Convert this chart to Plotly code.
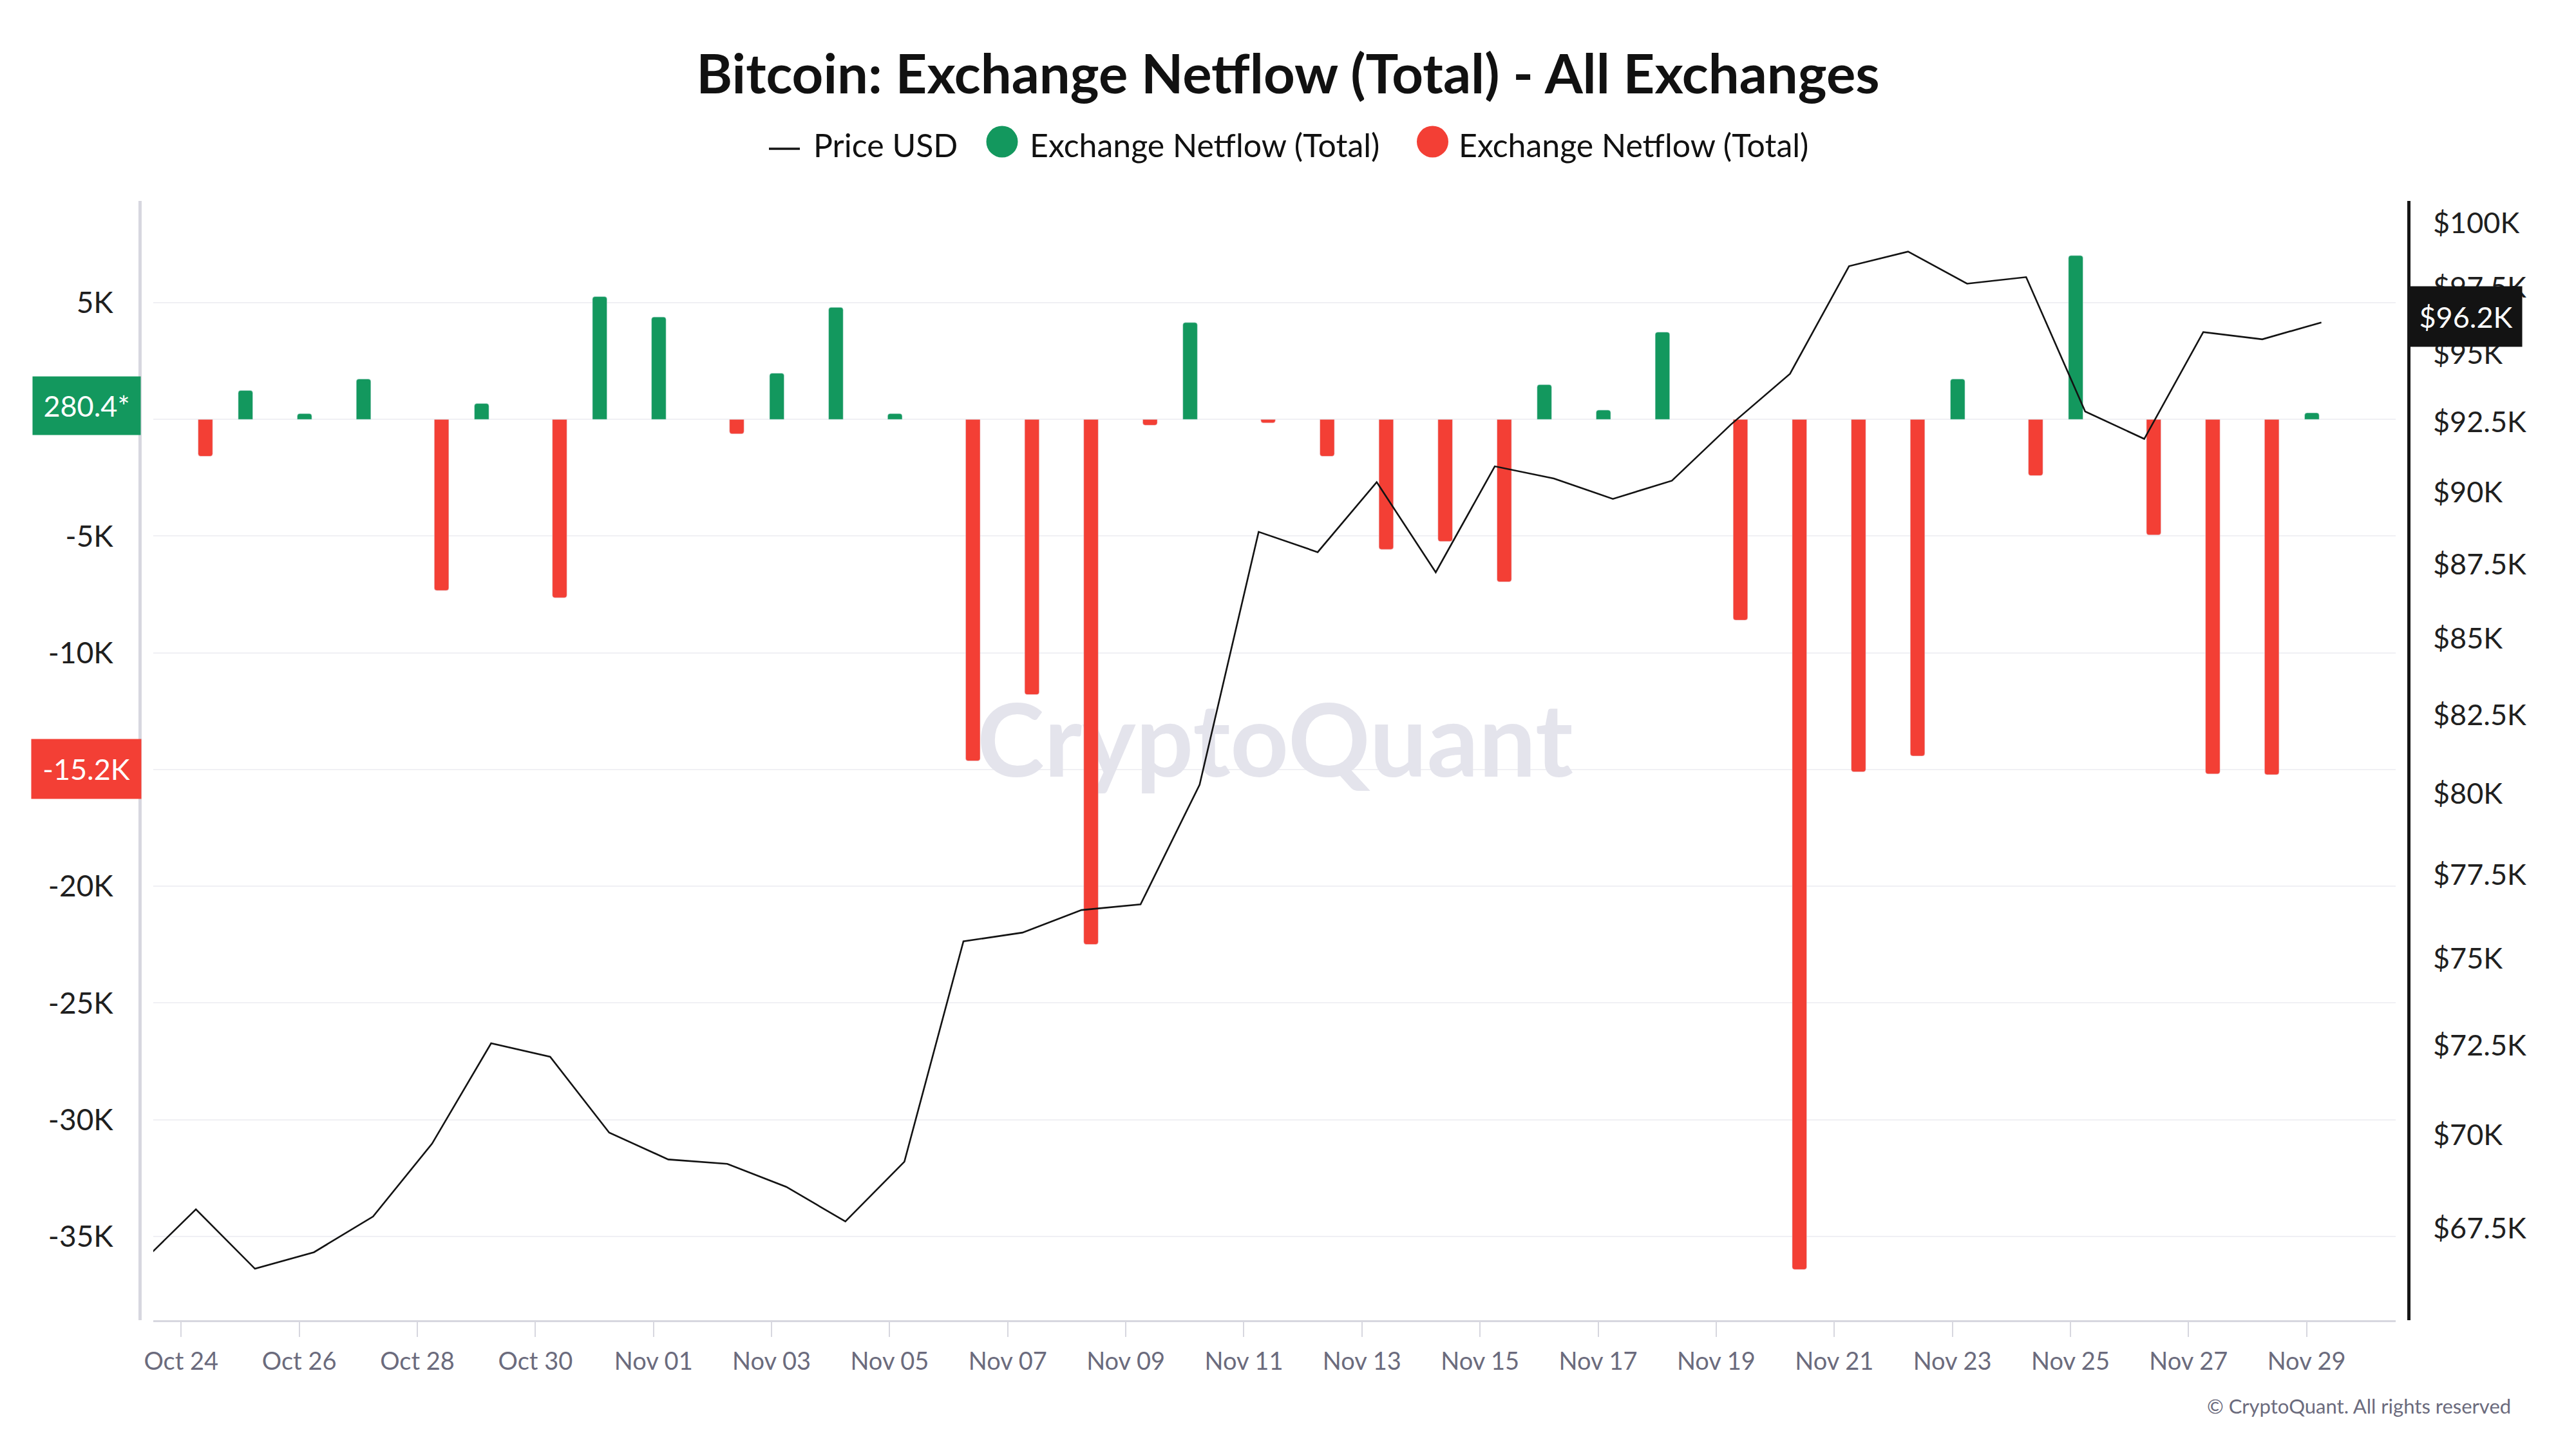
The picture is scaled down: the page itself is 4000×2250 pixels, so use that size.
import math
import pandas as pd
import plotly.graph_objects as go

# ---------------- data ----------------
price_dates = [
    "2024-10-23", "2024-10-24", "2024-10-25", "2024-10-26", "2024-10-27", "2024-10-28",
    "2024-10-29", "2024-10-30", "2024-10-31", "2024-11-01", "2024-11-02", "2024-11-03",
    "2024-11-04", "2024-11-05", "2024-11-06", "2024-11-07", "2024-11-08", "2024-11-09",
    "2024-11-10", "2024-11-11", "2024-11-12", "2024-11-13", "2024-11-14", "2024-11-15",
    "2024-11-16", "2024-11-17", "2024-11-18", "2024-11-19", "2024-11-20", "2024-11-21",
    "2024-11-22", "2024-11-23", "2024-11-24", "2024-11-25", "2024-11-26", "2024-11-27",
    "2024-11-28", "2024-11-29",
]
price_usd = [
    66480, 68000, 66440, 66870, 67810, 69770,
    72560, 72180, 70070, 69340, 69220, 68600,
    67680, 69280, 75510, 75770, 76440, 76610,
    80280, 88620, 87920, 90360, 87230, 90920,
    90490, 89770, 90410, 92420, 94270, 98320,
    98880, 97650, 97900, 92890, 91900, 95820,
    95550, 96180,
]

flow_dates = price_dates[1:]
netflow = [
    -1580, 1240, 250, 1730, -7330,
    680, -7640, 5260, 4390, -620, 1980,
    4800, 250, -14630, -11790, -22490, -250,
    4150, -150, -1580, -5570, -5230, -6960,
    1490, 400, 3740, -8600, -36420, -15100,
    -14420, 1730, -2410, 7020, -4950, -15190,
    -15220, 280.4,
]

x_tick_dates = [
    "2024-10-24", "2024-10-26", "2024-10-28", "2024-10-30", "2024-11-01", "2024-11-03",
    "2024-11-05", "2024-11-07", "2024-11-09", "2024-11-11", "2024-11-13", "2024-11-15",
    "2024-11-17", "2024-11-19", "2024-11-21", "2024-11-23", "2024-11-25", "2024-11-27",
    "2024-11-29",
]
x_tick_labels = [
    "Oct 24", "Oct 26", "Oct 28", "Oct 30", "Nov 01", "Nov 03", "Nov 05", "Nov 07",
    "Nov 09", "Nov 11", "Nov 13", "Nov 15", "Nov 17", "Nov 19", "Nov 21", "Nov 23",
    "Nov 25", "Nov 27", "Nov 29",
]

# labels at 0 and -15K are covered by the value boxes in the reference
left_tick_vals = [5000, 0, -5000, -10000, -15000, -20000, -25000, -30000, -35000]
left_tick_text = ["5K", "", "-5K", "-10K", "", "-20K", "-25K", "-30K", "-35K"]

right_tick_vals = [67500, 70000, 72500, 75000, 77500, 80000, 82500, 85000,
                   87500, 90000, 92500, 95000, 97500, 100000]
right_tick_text = ["$67.5K", "$70K", "$72.5K", "$75K", "$77.5K", "$80K", "$82.5K", "$85K",
                   "$87.5K", "$90K", "$92.5K", "$95K", "$97.5K", "$100K"]

# ---------------- style ----------------
FONT = "Lato"
GREEN = "#13985e"
RED = "#f33f35"
DARK = "#131313"
GREY_TXT = "#6b6b7d"
AXIS_GREY = "#d7d7df"

W, H = 4000, 2250
ML, MR, MT, MB = 238, 280, 312, 200
PW, PH = W - ML - MR, H - MT - MB


def px(xpix):
    return (xpix - ML) / PW


def py(ypix):
    return (H - MB - ypix) / PH


green_vals = [v if v > 0 else None for v in netflow]
red_vals = [v if v < 0 else None for v in netflow]
last_green = [v for v in netflow if v > 0][-1]
last_red = [v for v in netflow if v < 0][-1]
last_price = price_usd[-1]

tickvals_x = [d - pd.Timedelta(hours=6) for d in pd.to_datetime(x_tick_dates)]

fig = go.Figure()

# watermark (base subplot, below all data)
fig.add_trace(go.Scatter(
    x=["2024-11-11 06:40"], y=[py(1166)], mode="text", text=["CryptoQuant"],
    textposition="middle center",
    textfont=dict(family=FONT, size=158, color="#e4e4ec", weight="bold"),
    yaxis="y", hoverinfo="skip", showlegend=False, cliponaxis=False,
))

fig.add_trace(go.Bar(
    x=flow_dates, y=green_vals, name="Exchange Netflow (Total)",
    marker=dict(color=GREEN, cornerradius=4), yaxis="y2", showlegend=False,
))
fig.add_trace(go.Bar(
    x=flow_dates, y=red_vals, name="Exchange Netflow (Total)",
    marker=dict(color=RED, cornerradius=4), yaxis="y2", showlegend=False,
))
fig.add_trace(go.Scatter(
    x=price_dates, y=price_usd, name="Price USD", mode="lines",
    line=dict(color=DARK, width=2.6), yaxis="y3", showlegend=False,
))

shapes = []
annotations = []

# manual legend
leg_y_text = py(225)
shapes.append(dict(type="line", xref="paper", yref="paper",
                   x0=px(1194), x1=px(1242), y0=py(231), y1=py(231),
                   line=dict(color=DARK, width=3.5)))
annotations.append(dict(text="Price USD", xref="paper", yref="paper", x=px(1261), y=leg_y_text,
                        xanchor="left", yanchor="middle", showarrow=False,
                        font=dict(family=FONT, size=50, color="#111111")))
for cx, col, tx in [(1556, GREEN, 1597), (2224.5, RED, 2263)]:
    shapes.append(dict(type="circle", xref="paper", yref="paper",
                       xsizemode="pixel", ysizemode="pixel",
                       xanchor=px(cx), yanchor=py(220),
                       x0=-24.5, x1=24.5, y0=-24.5, y1=24.5,
                       fillcolor=col, line=dict(width=0)))
    annotations.append(dict(text="Exchange Netflow (Total)", xref="paper", yref="paper",
                            x=px(tx), y=leg_y_text, xanchor="left", yanchor="middle",
                            showarrow=False,
                            font=dict(family=FONT, size=50, color="#111111")))

# value boxes
annotations.append(dict(text=f"{last_green:.1f}*", xref="paper", x=px(219), xanchor="right",
                        yref="y2", y=last_green, yanchor="middle", yshift=11,
                        showarrow=False, bgcolor=GREEN, width=167, height=90, borderpad=0,
                        font=dict(family=FONT, size=45, color="white")))
annotations.append(dict(text=f"{last_red / 1000:.1f}K", xref="paper", x=px(220), xanchor="right",
                        yref="y2", y=last_red, yanchor="middle", yshift=9,
                        showarrow=False, bgcolor=RED, width=170, height=92, borderpad=0,
                        font=dict(family=FONT, size=45, color="white")))
annotations.append(dict(text=f"${last_price / 1000:.1f}K", xref="paper", x=px(3741), xanchor="left",
                        yref="y3", y=math.log10(last_price), yanchor="middle", yshift=9,
                        showarrow=False, bgcolor=DARK, width=174, height=93, borderpad=0,
                        font=dict(family=FONT, size=45, color="white")))

# copyright
annotations.append(dict(text="© CryptoQuant. All rights reserved", xref="paper", yref="paper",
                        x=px(3901), y=py(2183), xanchor="right", yanchor="middle",
                        showarrow=False, font=dict(family=FONT, size=31, color=GREY_TXT)))

fig.update_layout(
    width=W, height=H,
    margin=dict(l=ML, r=MR, t=MT, b=MB),
    paper_bgcolor="white", plot_bgcolor="white",
    barmode="group", bargap=0.3586, bargroupgap=0.231,
    showlegend=False,
    font=dict(family=FONT, color="#1f1f1f"),
    title=dict(text="Bitcoin: Exchange Netflow (Total) - All Exchanges",
               x=0.5, xanchor="center", xref="container",
               y=1 - 115 / H, yanchor="middle",
               font=dict(family=FONT, size=85, color="#111111", weight="bold")),
    xaxis=dict(type="date", range=["2024-10-23 06:40", "2024-11-30 06:13"],
               tickvals=tickvals_x, ticktext=x_tick_labels,
               showgrid=False, zeroline=False,
               showline=True, linecolor=AXIS_GREY, linewidth=3,
               ticks="outside", ticklen=23, tickwidth=2, tickcolor=AXIS_GREY,
               ticklabelstandoff=5,
               tickfont=dict(family=FONT, size=38, color=GREY_TXT)),
    yaxis=dict(range=[0, 1], visible=False, fixedrange=True, showgrid=False),
    yaxis2=dict(overlaying="y", side="left", anchor="free", position=0, shift=-21,
                range=[-38590, 9360], tickvals=left_tick_vals, ticktext=left_tick_text,
                showgrid=True, gridcolor="#f0f0f4", gridwidth=2, zeroline=False,
                showline=True, linecolor=AXIS_GREY, linewidth=5, ticks="",
                ticklabelstandoff=30,
                tickfont=dict(family=FONT, size=46, color="#1f1f1f")),
    yaxis3=dict(overlaying="y", side="right", anchor="free", position=1, shift=20,
                type="log", range=[4.813689, 5.003717],
                tickvals=right_tick_vals, ticktext=right_tick_text,
                showgrid=False, zeroline=False,
                showline=True, linecolor="#161616", linewidth=5, ticks="",
                ticklabelstandoff=26,
                tickfont=dict(family=FONT, size=45, color="#1f1f1f")),
    shapes=shapes,
    annotations=annotations,
)

fig.write_html("out.html")
